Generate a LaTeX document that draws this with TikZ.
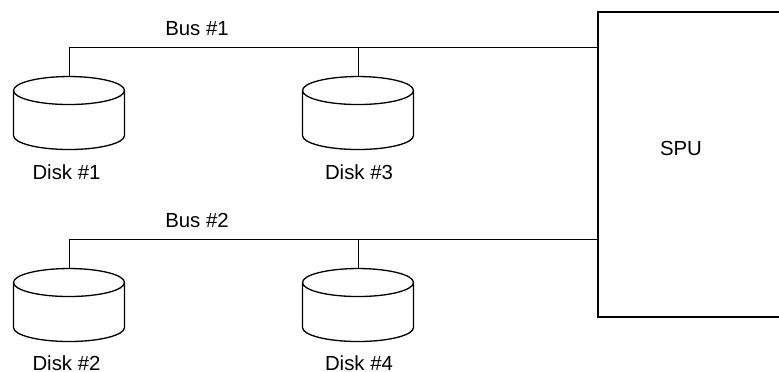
\documentclass[tikz,border=0pt]{standalone}
\usepackage{fontspec}
\setmainfont{Liberation Sans}
\usetikzlibrary{shapes.geometric}
\tikzset{
  disk/.style={draw,line width=0.75pt,cylinder,shape border rotate=90,aspect=1,
    minimum width=2.22cm,minimum height=1.46cm,inner sep=0.28cm,outer sep=0pt},
  lab/.style={font=\fontsize{11.6}{13}\selectfont,inner sep=0pt},
  wire/.style={line width=0.5pt}
}
\begin{document}
\begin{tikzpicture}[x=0.02cm,y=-0.02cm]
\useasboundingbox (0,0) rectangle (779,372);
\node [draw,line width=0.75pt,minimum width=3.84cm,minimum height=6.1cm,inner sep=0pt] (spu) at (694,164.5) {};
\node [lab] (spulab) at (681,148) {SPU};
\node [disk] (disk1) at (69,125) {};
\node [disk] (disk3) at (358,125) {};
\node [disk] (disk2) at (69,317) {};
\node [disk] (disk4) at (358,317) {};
\node [lab] (name1) at (66.5,172) {Disk \#1};
\node [lab] (name3) at (359,172) {Disk \#3};
\node [lab] (name2) at (66.5,363) {Disk \#2};
\node [lab] (name4) at (359,363) {Disk \#4};
\node [lab] (bus1) at (197,29) {Bus \#1};
\node [lab] (bus2) at (197,220) {Bus \#2};
\coordinate (end1) at (598,47);
\coordinate (end2) at (598,239);
\draw [wire] (disk1.top) |- (end1);
\draw [wire] (disk3.top) -- (disk3.top |- end1);
\draw [wire] (disk2.top) |- (end2);
\draw [wire] (disk4.top) -- (disk4.top |- end2);
\end{tikzpicture}
\end{document}
